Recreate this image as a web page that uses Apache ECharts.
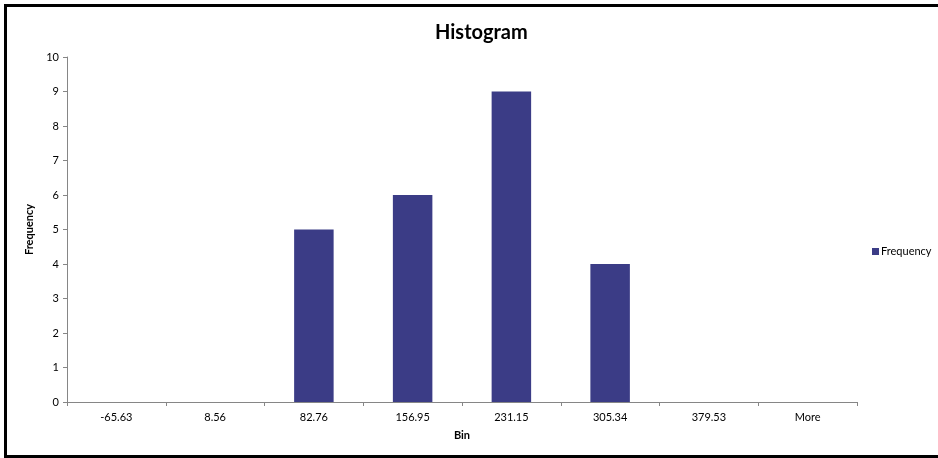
<!DOCTYPE html>
<html>
<head>
<meta charset="utf-8">
<style>
html,body{margin:0;padding:0;background:#fff;overflow:hidden;}
#chart{width:938px;height:458px;}
</style>
<script src="https://cdn.jsdelivr.net/npm/echarts@6/dist/echarts.min.js"></script>
</head>
<body>
<div id="chart"></div>
<script>
const categories = ['-65.63', '8.56', '82.76', '156.95', '231.15', '305.34', '379.53', 'More'];
const frequency = [0, 0, 5, 6, 9, 4, 0, 0];
const yTicks = [0, 1, 2, 3, 4, 5, 6, 7, 8, 9, 10];

const chart = echarts.init(document.getElementById('chart'), null, {renderer: 'canvas'});
const font = 'Lato, "Liberation Sans", sans-serif';
const borderStyle = {stroke: '#000000', lineWidth: 3};
chart.setOption({
  animation: false,
  backgroundColor: '#ffffff',
  graphic: [
    {type: 'line', shape: {x1: 5.5, y1: 5.5, x2: 1200, y2: 5.5}, style: borderStyle, silent: true, z: 100},
    {type: 'line', shape: {x1: 5.5, y1: 4, x2: 5.5, y2: 457}, style: borderStyle, silent: true, z: 100},
    {type: 'line', shape: {x1: 4, y1: 456.5, x2: 1200, y2: 456.5}, style: borderStyle, silent: true, z: 100}
  ],
  title: {
    text: 'Histogram',
    left: 430,
    top: 18,
    textStyle: {fontFamily: font, fontSize: 20, fontWeight: 'bold', color: '#000'}
  },
  legend: {
    data: ['Frequency'],
    orient: 'vertical',
    left: 867,
    top: 241,
    itemWidth: 7,
    itemHeight: 7,
    itemGap: 4,
    textStyle: {fontFamily: font, fontSize: 11, color: '#000', padding: [0, 0, 0, -3]},
    icon: 'rect'
  },
  grid: {left: 67, right: 81, top: 57, bottom: 56, containLabel: false},
  xAxis: {
    type: 'category',
    data: categories,
    name: 'Bin',
    nameLocation: 'middle',
    nameGap: 28,
    nameTextStyle: {fontFamily: font, fontSize: 11, fontWeight: 'bold', color: '#000'},
    axisLine: {lineStyle: {color: '#868686', width: 1}},
    axisTick: {show: true, length: 4, alignWithLabel: false, lineStyle: {color: '#868686'}},
    axisLabel: {fontFamily: font, fontSize: 11, color: '#000', margin: 10},
    splitLine: {show: false}
  },
  yAxis: {
    type: 'value',
    min: 0,
    max: 10,
    interval: 1,
    name: 'Frequency',
    nameLocation: 'middle',
    nameGap: 28,
    nameRotate: 90,
    nameTextStyle: {fontFamily: font, fontSize: 11, fontWeight: 'bold', color: '#000'},
    axisLine: {show: true, lineStyle: {color: '#868686', width: 1}},
    axisTick: {show: true, length: 4, lineStyle: {color: '#868686'}},
    axisLabel: {fontFamily: font, fontSize: 11, color: '#000', margin: 8,
      formatter: v => yTicks.includes(v) ? String(v) : ''},
    splitLine: {show: false}
  },
  series: [{
    name: 'Frequency',
    type: 'bar',
    data: frequency,
    barWidth: '40%',
    itemStyle: {color: '#3B3C86'}
  }]
});
</script>
</body>
</html>
